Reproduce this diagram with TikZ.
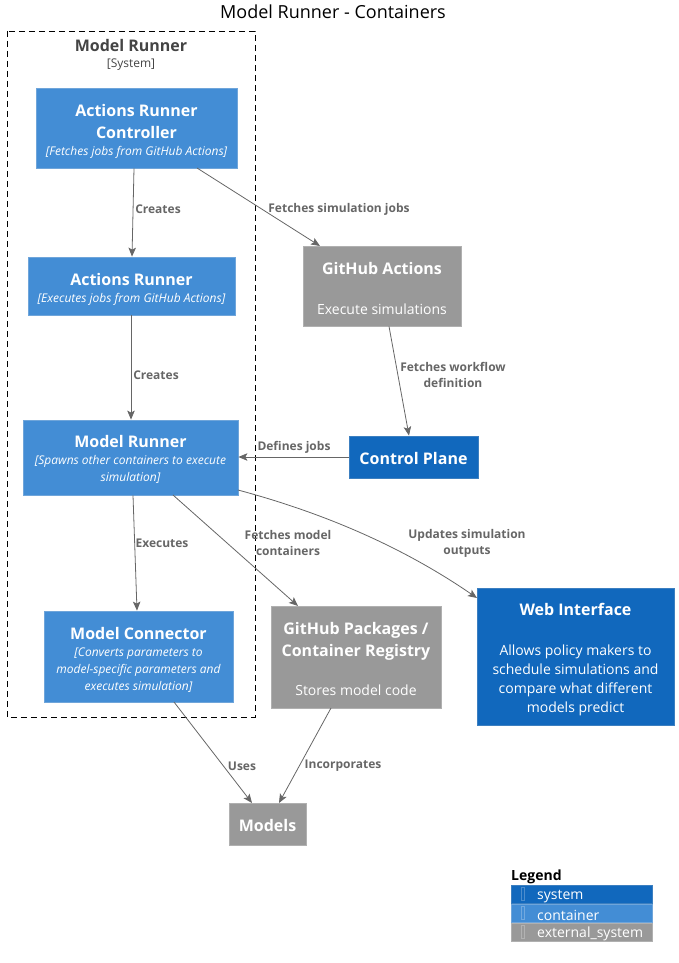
\documentclass[tikz,border=0pt]{standalone}
\usepackage{fontspec}
\setmainfont{Open Sans}
\usetikzlibrary{arrows.meta,positioning}
\definecolor{csys}{HTML}{1168BD}
\definecolor{ccont}{HTML}{438DD5}
\definecolor{cext}{HTML}{999999}
\definecolor{csysb}{HTML}{3C7FC0}
\definecolor{ccontb}{HTML}{6FA5DA}
\definecolor{cextb}{HTML}{B0B0B0}
\definecolor{carrow}{HTML}{666666}
\definecolor{cbound}{HTML}{444444}
\tikzset{
  box/.style={draw, line width=0.8pt, inner sep=0pt},
  contbox/.style={box, fill=ccont, draw=ccontb},
  sysbox/.style={box, fill=csys, draw=csysb},
  extbox/.style={box, fill=cext, draw=cextb},
  boxtext/.style={text=white, align=center, inner sep=0pt,
    font=\fontsize{16}{22}\selectfont\bfseries},
  rel/.style={draw=carrow, line width=0.8pt, -{Stealth[length=9pt,width=7.5pt,inset=2pt]}},
  rlabel/.style={text=carrow, font=\fontsize{12}{16}\selectfont\bfseries, align=center, inner sep=0pt},
  legrow/.style={minimum width=141pt, minimum height=18pt, inner sep=0pt, anchor=north west},
}
\newcommand{\D}[1]{{\fontsize{12}{17}\selectfont\mdseries\itshape #1}}
\newcommand{\PL}[1]{{\fontsize{14}{19}\selectfont\mdseries #1}}
\begin{document}
\begin{tikzpicture}[x=1pt,y=-1pt]
\useasboundingbox (0,0) rectangle (679,963);
% title
\node[font=\fontsize{18}{22}\selectfont, inner sep=0pt] (title) at (333,12) {Model Runner - Containers};
% boundary
\draw[dashed, dash pattern=on 6pt off 4pt, line width=0.8pt] (7,31) rectangle (255,717);
\node[text=cbound, font=\fontsize{16}{20}\selectfont\bfseries, inner sep=0pt] (bname) at (131,46) {Model Runner};
\node[text=cbound, font=\fontsize{12}{15}\selectfont, inner sep=0pt] (btype) at (131,64.5) {[System]};
% boxes
\node[contbox, minimum width=201pt, minimum height=80pt] (arc) at (136.5,128) {};
\node[contbox, minimum width=207pt, minimum height=58pt] (ar) at (131.5,286) {};
\node[contbox, minimum width=215pt, minimum height=75pt] (mr) at (130.5,457.5) {};
\node[contbox, minimum width=189pt, minimum height=91pt] (mc) at (138.5,656.5) {};
\node[extbox, minimum width=158pt, minimum height=80pt] (gha) at (382,286) {};
\node[sysbox, minimum width=129pt, minimum height=42pt] (cp) at (413.5,457) {};
\node[extbox, minimum width=170pt, minimum height=102pt] (ghp) at (356,657) {};
\node[sysbox, minimum width=197pt, minimum height=137pt] (web) at (575.5,656.5) {};
\node[extbox, minimum width=77pt, minimum height=42pt] (models) at (267.5,824) {};
% box texts
\node[boxtext] (arct) at ([yshift=-3pt]arc.center)
  {Actions Runner\\Controller\\[-5pt]\D{[Fetches jobs from GitHub Actions]}};
\node[boxtext] (art) at ([yshift=-3.5pt]ar.center)
  {Actions Runner\\[-5pt]\D{[Executes jobs from GitHub Actions]}};
\node[boxtext] (mrt) at ([yshift=-2pt]mr.center)
  {Model Runner\\[-5pt]\D{[Spawns other containers to execute}\\[-5pt]\D{simulation]}};
\node[boxtext] (mct) at ([yshift=-3.5pt]mc.center)
  {Model Connector\\[-5pt]\D{[Converts parameters to}\\[-5pt]\D{model-specific parameters and}\\[-5pt]\D{executes simulation]}};
\node[boxtext] (ghat) at ([yshift=-2pt]gha.center)
  {GitHub Actions\\[18pt]\PL{Execute simulations}};
\node[boxtext] (cpt) at ([yshift=-1pt]cp.center) {Control Plane};
\node[boxtext] (ghpt) at ([yshift=-1.5pt]ghp.center)
  {GitHub Packages /\\Container Registry\\[17pt]\PL{Stores model code}};
\node[boxtext] (webt) at ([yshift=-3.5pt]web.center)
  {Web Interface\\[18pt]\PL{Allows policy makers to}\\[-3pt]\PL{schedule simulations and}\\[-3pt]\PL{compare what different}\\[-3pt]\PL{models predict}};
\node[boxtext] (modelst) at ([yshift=-1pt]models.center) {Models};
% relations
\draw[rel] (arc.south -| 134,0) -- (ar.north -| 132,0);
\node[rlabel] (l1) at (158,209) {Creates};
\draw[rel] (197,168) coordinate (a1) -- (320,246) coordinate (a2);
\node[rlabel] (l2) at (339,209) {Fetches simulation jobs};
\draw[rel] (ar.south -| 131,0) -- (mr.north -| 131,0);
\node[rlabel] (l3) at (156,375) {Creates};
\draw[rel] (gha.south -| 389,0) -- (cp.north -| 409,0);
\node[rlabel] (l4) at (453,375) {Fetches workflow\\definition};
\draw[rel] (cp.west) -- (mr.east |- cp.west);
\node[rlabel] (l5) at (294,447) {Defines jobs};
\draw[rel] (mr.south -| 133,0) -- (mc.north -| 137,0);
\node[rlabel] (l6) at (162,543) {Executes};
\draw[rel] (173,495) coordinate (b1) -- (298,606) coordinate (b2);
\node[rlabel] (l7) at (288,543) {Fetches model\\containers};
\draw[rel] (238,490) coordinate (c1) .. controls (320,512) and (400,545) .. (477,598) coordinate (c2);
\node[rlabel] (l8) at (467,543) {Updates simulation\\outputs};
\draw[rel] (174,702) coordinate (d1) -- (252,803) coordinate (d2);
\node[rlabel] (l9) at (242,766) {Uses};
\draw[rel] (331,708) coordinate (e1) -- (279,803) coordinate (e2);
\node[rlabel] (l10) at (343,766) {Incorporates};
% legend
\node[font=\fontsize{14}{18}\selectfont\bfseries, anchor=west, inner sep=0pt] (legend) at (511,876.5) {Legend};
\node[legrow, fill=csys, draw=csysb] (lg1) at (511,885) {};
\node[legrow, fill=ccont, draw=ccontb] (lg2) at (511,904) {};
\node[legrow, fill=cext, draw=cextb] (lg3) at (511,923) {};
\foreach \n/\t in {lg1/system,lg2/container,lg3/external\_system}{
  \node[text=white, font=\fontsize{14}{18}\selectfont, anchor=west, inner sep=0pt] (\n t) at ([xshift=26pt,yshift=-2pt]\n.west) {\t};
  \draw[white, opacity=0.25, line width=0.5pt] ([xshift=10pt,yshift=-6pt]\n.west) rectangle ([xshift=13.5pt,yshift=7pt]\n.west);
}
\end{tikzpicture}
\end{document}
